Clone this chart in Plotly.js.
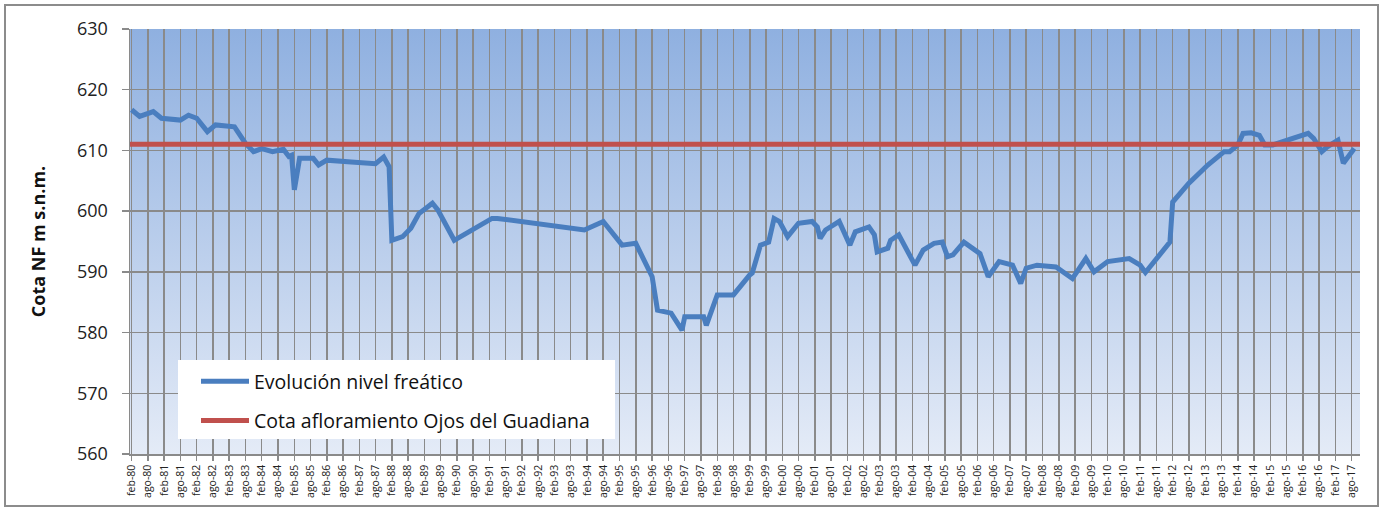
<!DOCTYPE html>
<html>
<head>
<meta charset="utf-8">
<script src="https://cdn.plot.ly/plotly-3.0.1.min.js"></script>
<style>html,body{margin:0;padding:0;background:#fff;}#chart{width:1384px;height:508px;}</style>
</head>
<body>
<div id="chart"></div>
<script>
// ---- data ----
const dates = ['1980-02','1980-05','1980-10','1981-01','1981-08','1981-11','1982-02','1982-06','1982-09','1983-04',
'1983-08','1983-11','1984-02','1984-06','1984-10','1984-12','1985-01','1985-02','1985-04','1985-09',
'1985-11','1986-02','1986-11','1987-08','1987-11','1988-01','1988-02','1988-06','1988-09','1988-12',
'1989-05','1989-07','1990-01','1991-03','1991-05','1994-01','1994-08','1995-03','1995-08','1996-02',
'1996-04','1996-09','1997-01','1997-02','1997-09','1997-10','1998-02','1998-08','1999-02','1999-03',
'1999-06','1999-09','1999-11','2000-01','2000-04','2000-08','2001-01','2001-03','2001-04','2001-06',
'2001-11','2002-03','2002-05','2002-10','2002-12','2003-01','2003-05','2003-06','2003-09','2003-11',
'2004-03','2004-06','2004-10','2005-01','2005-03','2005-05','2005-09','2006-03','2006-06','2006-10',
'2007-03','2007-06','2007-08','2007-12','2008-07','2009-01','2009-06','2009-09','2010-02','2010-10',
'2011-02','2011-04','2012-01','2012-02','2012-08','2013-03','2013-09','2013-11','2014-02','2014-04',
'2014-07','2014-10','2014-12','2015-03','2015-11','2016-04','2016-06','2016-09','2016-11','2017-03',
'2017-05','2017-07','2017-09'];
const nivelFreatico = [616.7,615.6,616.4,615.3,615.0,615.8,615.3,613.1,614.2,613.9,
611.2,609.8,610.3,609.8,610.2,609.0,609.2,603.5,608.7,608.7,
607.6,608.4,608.1,607.8,608.9,607.3,595.2,595.8,597.2,599.6,
601.3,600.2,595.2,598.8,598.8,596.9,598.3,594.4,594.7,589.2,
583.7,583.2,580.4,582.6,582.6,581.2,586.2,586.2,589.5,589.8,
594.4,594.9,598.8,598.3,595.8,598.0,598.3,597.4,595.5,596.9,
598.3,594.4,596.6,597.4,596.1,593.3,593.9,595.2,596.1,594.4,
591.1,593.6,594.7,594.9,592.5,592.8,594.9,593.0,589.2,591.7,
591.1,588.1,590.6,591.1,590.8,588.9,592.2,590.0,591.7,592.2,
591.1,589.9,594.9,601.5,604.6,607.6,609.8,609.8,610.9,612.8,
612.9,612.5,610.9,610.9,612.0,612.8,612.0,609.8,610.6,611.7,
607.9,609.2,610.3];
const cotaAfloramiento = 611;
const xRange = ['1980-01-14','2017-11-04'];
const tickLabels = ['feb-80','ago-80','feb-81','ago-81','feb-82','ago-82','feb-83','ago-83','feb-84','ago-84',
'feb-85','ago-85','feb-86','ago-86','feb-87','ago-87','feb-88','ago-88','feb-89','ago-89',
'feb-90','ago-90','feb-91','ago-91','feb-92','ago-92','feb-93','ago-93','feb-94','ago-94',
'feb-95','ago-95','feb-96','ago-96','feb-97','ago-97','feb-98','ago-98','feb-99','ago-99',
'feb-00','ago-00','feb-01','ago-01','feb-02','ago-02','feb-03','ago-03','feb-04','ago-04',
'feb-05','ago-05','feb-06','ago-06','feb-07','ago-07','feb-08','ago-08','feb-09','ago-09',
'feb-10','ago-10','feb-11','ago-11','feb-12','ago-12','feb-13','ago-13','feb-14','ago-14',
'feb-15','ago-15','feb-16','ago-16','feb-17','ago-17'];
const seriesNames = ['Evolución nivel freático','Cota afloramiento Ojos del Guadiana'];

// ---- derived ----
const tickVals = tickLabels.map(function(t){
  const p = t.split('-');
  const yy = parseInt(p[1],10);
  const year = yy >= 50 ? 1900 + yy : 2000 + yy;
  return year + (p[0] === 'feb' ? '-02-01' : '-08-01');
});

const FONT = 'Open Sans, Noto Sans, sans-serif';
const grad = '<svg xmlns="http://www.w3.org/2000/svg" width="100" height="100" preserveAspectRatio="none">' +
  '<defs><linearGradient id="g" x1="0" y1="0" x2="0" y2="1">' +
  '<stop offset="0" stop-color="#8FB0E0"/><stop offset="1" stop-color="#E4EBF7"/></linearGradient></defs>' +
  '<rect width="100" height="100" fill="url(#g)"/></svg>';

const traces = [
  {x: dates, y: nivelFreatico, type: 'scatter', mode: 'lines', name: seriesNames[0],
   legendgroup: 'a', line: {color: '#4A7EBF', width: 5}},
  {x: xRange, y: [cotaAfloramiento, cotaAfloramiento], type: 'scatter', mode: 'lines', name: seriesNames[1],
   legendgroup: 'b', line: {color: '#C0504D', width: 5}}
];

const L = 130, R = 1360, T = 29, B = 454;
const W = R - L, H = B - T;
function px(x){ return (x - L) / W; }
function py(y){ return (B - y) / H; }

const layout = {
  width: 1384, height: 508,
  margin: {l: L, r: 1384 - R, t: T, b: 508 - B, pad: 0},
  paper_bgcolor: '#ffffff',
  plot_bgcolor: 'rgba(0,0,0,0)',
  font: {family: FONT, color: '#222'},
  showlegend: true,
  legend: {x: px(196), y: py(362), xanchor: 'left', yanchor: 'top', bgcolor: 'rgba(0,0,0,0)',
           borderwidth: 0, font: {size: 19.5, family: FONT, color: '#111'}, traceorder: 'grouped',
           tracegroupgap: 11, itemwidth: 48},
  xaxis: {type: 'date', range: xRange, tickmode: 'array', tickvals: tickVals, ticktext: tickLabels,
          tickangle: -90, tickfont: {size: 10.5, family: FONT, color: '#222'},
          showgrid: true, gridcolor: '#8A8A8A', gridwidth: 1.5,
          showline: true, linecolor: '#8A8A8A', linewidth: 1.5,
          ticks: 'outside', ticklen: 5, tickcolor: '#8A8A8A', tickwidth: 1.5, zeroline: false},
  yaxis: {range: [560, 630], dtick: 10, tick0: 560, tickfont: {size: 18, family: FONT, color: '#222'},
          showgrid: true, gridcolor: '#8A8A8A', gridwidth: 1.5,
          showline: true, linecolor: '#8A8A8A', linewidth: 1.5,
          ticks: 'outside', ticklen: 7, tickcolor: '#8A8A8A', tickwidth: 1.5, ticklabelstandoff: 10,
          zeroline: false,
          title: {text: 'Cota NF m s.n.m.', font: {size: 18, family: FONT, color: '#111', weight: 'bold'}, standoff: 26}},
  images: [{source: 'data:image/svg+xml;charset=utf-8,' + encodeURIComponent(grad),
            xref: 'paper', yref: 'paper', x: 0, y: 1, sizex: 1, sizey: 1,
            sizing: 'stretch', xanchor: 'left', yanchor: 'top', layer: 'below'}],
  shapes: [
    {type: 'rect', xref: 'paper', yref: 'paper', x0: px(178), x1: px(615), y0: py(439), y1: py(360),
     fillcolor: '#ffffff', line: {width: 0}, layer: 'above'},
    {type: 'rect', xref: 'paper', yref: 'paper', x0: px(5), x1: px(1378), y0: py(506), y1: py(5),
     fillcolor: 'rgba(0,0,0,0)', line: {color: '#8C8C8C', width: 2}}
  ]
};

Plotly.newPlot('chart', traces, layout, {displayModeBar: false, staticPlot: true});
</script>
</body>
</html>
